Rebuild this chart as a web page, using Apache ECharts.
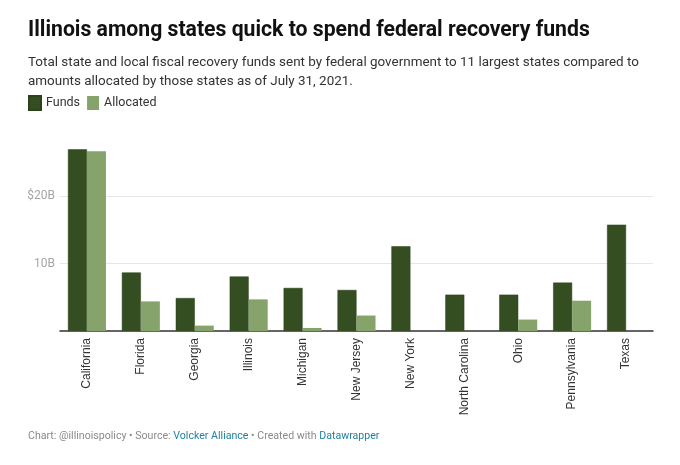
<!DOCTYPE html>
<html>
<head>
<meta charset="utf-8">
<script src="https://cdn.jsdelivr.net/npm/echarts@6/dist/echarts.min.js"></script>
<style>
  html, body { margin: 0; padding: 0; background: #fff; }
  #main { width: 680px; height: 465px; }
</style>
</head>
<body>
<div id="main"></div>
<script>
// values in billions of dollars
const states = ['California', 'Florida', 'Georgia', 'Illinois', 'Michigan', 'New Jersey',
  'New York', 'North Carolina', 'Ohio', 'Pennsylvania', 'Texas'];
const funds = [27.0, 8.7, 4.9, 8.1, 6.4, 6.1, 12.6, 5.4, 5.4, 7.2, 15.8];
const allocated = [26.7, 4.4, 0.8, 4.7, 0.45, 2.3, 0, 0, 1.7, 4.5, 0];
const yTicks = {10: '10B', 20: '$20B'};

const dark = '#344e21';
const light = '#85a36b';

const chart = echarts.init(document.getElementById('main'));

chart.setOption({
  animation: false,
  textStyle: { fontFamily: 'Roboto' },
  title: [
    {
      text: 'Illinois among states quick to spend federal recovery funds',
      left: 28, top: 20, padding: 0,
      textStyle: { fontSize: 21.2, fontWeight: 'bold', color: '#111', fontFamily: 'Roboto' }
    },
    {
      text: 'Total state and local fiscal recovery funds sent by federal government to 11 largest states compared to\namounts allocated by those states as of July 31, 2021.',
      left: 28, top: 53, padding: 0,
      textStyle: { fontSize: 13.45, fontWeight: 'normal', color: '#333', lineHeight: 19, fontFamily: 'Roboto' }
    },
    {
      text: 'Chart: @illinoispolicy • Source: {l|Volcker Alliance} • Created with {l|Datawrapper}',
      left: 28, top: 431, padding: 0,
      textStyle: {
        fontSize: 10.6, fontWeight: 'normal', color: '#8a8a8a', fontFamily: 'Roboto',
        rich: { l: { color: '#1f7fa6', fontSize: 10.6, fontFamily: 'Roboto' } }
      }
    }
  ],
  legend: {
    left: 28, top: 95, padding: 0,
    itemWidth: 12, itemHeight: 14, itemGap: 7,
    icon: 'rect',
    textStyle: { fontSize: 12.5, color: '#333' },
    data: ['Funds', 'Allocated']
  },
  grid: { left: 60, right: 27, top: 142.6, bottom: 134, containLabel: false },
  xAxis: {
    type: 'category',
    data: states,
    axisLine: { lineStyle: { color: '#333', width: 1.5 } },
    axisTick: { show: false },
    axisLabel: {
      rotate: 90, interval: 0, margin: 7,
      fontFamily: 'Liberation Sans', fontSize: 12, color: '#333'
    }
  },
  yAxis: {
    type: 'value',
    min: 0, max: 28, interval: 10,
    axisLine: { show: false },
    axisTick: { show: false },
    axisLabel: {
      margin: 5, fontSize: 12, color: '#a5a5a5',
      formatter: v => yTicks[v] || ''
    },
    splitLine: {
      lineStyle: { color: ['rgba(0,0,0,0)', '#e6e6e6', '#e6e6e6', 'rgba(0,0,0,0)'], width: 1 }
    }
  },
  series: [
    {
      name: 'Funds', type: 'bar', data: funds,
      barWidth: 19, barGap: '0%',
      itemStyle: { color: dark, borderColor: '#2b421b', borderWidth: 0.5 }
    },
    {
      name: 'Allocated', type: 'bar', data: allocated,
      barWidth: 19,
      itemStyle: { color: light }
    }
  ]
});
</script>
</body>
</html>
